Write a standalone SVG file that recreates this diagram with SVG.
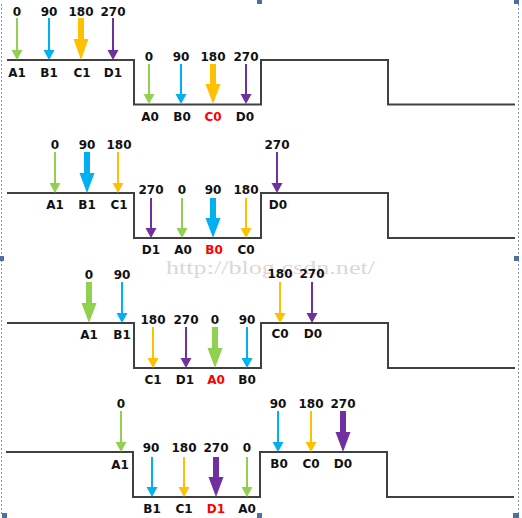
<svg xmlns="http://www.w3.org/2000/svg" width="522" height="518" viewBox="0 0 522 518">
<style>
.bg{fill:#fff}
.wave{fill:none;stroke:#404040;stroke-width:2}
.g{fill:#92D050}.b{fill:#00B0F0}.o{fill:#FFC000}.p{fill:#7030A0}
text{font-family:"DejaVu Sans",Verdana,sans-serif;font-weight:bold;font-size:12px;text-anchor:middle;fill:#111}
text.red{fill:#FF0000}
.wm{font-family:"Liberation Serif",serif;font-weight:normal;font-size:18px;text-anchor:start;fill:#dcd8d4}
.frame{stroke:#8094b8;stroke-width:1;stroke-dasharray:2 2;fill:none}
.hdl{fill:#4f6f9f}
</style>
<rect class="bg" width="522" height="518"/>
<g id="frame">
<line class="frame" x1="1.5" y1="4" x2="1.5" y2="514"/>
<line class="frame" x1="518.5" y1="4" x2="518.5" y2="514"/>
<rect class="hdl" x="257" y="0" width="5" height="4"/>
<rect class="hdl" x="514" y="0" width="5" height="4"/>
<rect class="hdl" x="0" y="256" width="4" height="5"/>
<rect class="hdl" x="514" y="256" width="5" height="5"/>
<rect class="hdl" x="2" y="513" width="5" height="5"/>
<rect class="hdl" x="257" y="513" width="5" height="5"/>
<rect class="hdl" x="513" y="513" width="6" height="5"/>
</g>
<text class="wm" x="166" y="274" textLength="209" lengthAdjust="spacingAndGlyphs">http://blog.csdn.net/</text>
<g id="connectors">
<path class="wave" d="M7 60H134V104.5H261V60H388V104.5H515"/>
<path class="wave" d="M7 193H134V238H261V193H388V238H515"/>
<path class="wave" d="M7 323H134V368H261V323H388V368H515"/>
<path class="wave" d="M6 452H133V497H260V452H387V497H514"/>
</g>
<!-- Panel 1 -->
<g id="p1">
<g id="p1-A1"><path class="g" d="M16 18h2V50h4.5L17 60 11.5 50H16Z"/><text x="17" y="16">0</text><text x="17" y="77">A1</text></g>
<g id="p1-B1"><path class="b" d="M48 18h2V50h4.5L49 60 43.5 50H48Z"/><text x="49" y="16">90</text><text x="49" y="77">B1</text></g>
<g id="p1-C1"><path class="o" d="M78 18h6V39h4.5L81 60 73.5 39H78Z"/><text x="81" y="16">180</text><text x="82" y="77">C1</text></g>
<g id="p1-D1"><path class="p" d="M112 18h2V50h4.5L113 60 107.5 50H112Z"/><text x="113" y="16">270</text><text x="113" y="77">D1</text></g>
<g id="p1-A0"><path class="g" d="M148 64h2V94h4.5L149 104 143.5 94H148Z"/><text x="149" y="61">0</text><text x="150" y="121">A0</text></g>
<g id="p1-B0"><path class="b" d="M180 64h2V94h4.5L181 104 175.5 94H180Z"/><text x="181" y="61">90</text><text x="182" y="121">B0</text></g>
<g id="p1-C0"><path class="o" d="M210 64h6V84h4.5L213 104 205.5 84H210Z"/><text x="213" y="61">180</text><text class="red" x="213" y="121">C0</text></g>
<g id="p1-D0"><path class="p" d="M245 64h2V94h4.5L246 104 240.5 94H245Z"/><text x="246" y="61">270</text><text x="245" y="121">D0</text></g>
</g>
<!-- Panel 2 -->
<g id="p2">
<g id="p2-A1"><path class="g" d="M54 152h2V183h4.5L55 193 49.5 183H54Z"/><text x="55" y="149">0</text><text x="55" y="209">A1</text></g>
<g id="p2-B1"><path class="b" d="M84 152h6V173h4.5L87 193 79.5 173H84Z"/><text x="87" y="149">90</text><text x="87" y="209">B1</text></g>
<g id="p2-C1"><path class="o" d="M117 152h2V183h4.5L118 193 112.5 183H117Z"/><text x="119" y="149">180</text><text x="119" y="209">C1</text></g>
<g id="p2-D0"><path class="p" d="M276 152h2V183h4.5L277 193 271.5 183H276Z"/><text x="277" y="149">270</text><text x="278" y="209">D0</text></g>
<g id="p2-D1"><path class="p" d="M150 198h2V228h4.5L151 238 145.5 228H150Z"/><text x="151" y="194">270</text><text x="151" y="254">D1</text></g>
<g id="p2-A0"><path class="g" d="M181 198h2V228h4.5L182 238 176.5 228H181Z"/><text x="182" y="194">0</text><text x="183" y="254">A0</text></g>
<g id="p2-B0"><path class="b" d="M210 198h6V218h4.5L213 238 205.5 218H210Z"/><text x="213" y="194">90</text><text class="red" x="214" y="254">B0</text></g>
<g id="p2-C0"><path class="o" d="M245 198h2V228h4.5L246 238 240.5 228H245Z"/><text x="246" y="194">180</text><text x="246" y="254">C0</text></g>
</g>
<!-- Panel 3 -->
<g id="p3">
<g id="p3-A1"><path class="g" d="M86 282h6V303h4.5L89 323 81.5 303H86Z"/><text x="89" y="279">0</text><text x="89" y="339">A1</text></g>
<g id="p3-B1"><path class="b" d="M121 282h2V313h4.5L122 323 116.5 313H121Z"/><text x="122" y="279">90</text><text x="122" y="339">B1</text></g>
<g id="p3-C0"><path class="o" d="M279 282h2V313h4.5L280 323 274.5 313H279Z"/><text x="280" y="278">180</text><text x="280" y="338">C0</text></g>
<g id="p3-D0"><path class="p" d="M311 282h2V313h4.5L312 323 306.5 313H311Z"/><text x="312" y="278">270</text><text x="313" y="338">D0</text></g>
<g id="p3-C1"><path class="o" d="M152 327h2V358h4.5L153 368 147.5 358H152Z"/><text x="153" y="324">180</text><text x="153" y="384">C1</text></g>
<g id="p3-D1"><path class="p" d="M185 327h2V358h4.5L186 368 180.5 358H185Z"/><text x="186" y="324">270</text><text x="185" y="384">D1</text></g>
<g id="p3-A0"><path class="g" d="M212 327h6V348h4.5L215 368 207.5 348H212Z"/><text x="215" y="324">0</text><text class="red" x="216" y="384">A0</text></g>
<g id="p3-B0"><path class="b" d="M246 327h2V358h4.5L247 368 241.5 358H246Z"/><text x="247" y="324">90</text><text x="247" y="384">B0</text></g>
</g>
<!-- Panel 4 -->
<g id="p4">
<g id="p4-A1"><path class="g" d="M120 411h2V442h4.5L121 452 115.5 442H120Z"/><text x="121" y="408">0</text><text x="120" y="469">A1</text></g>
<g id="p4-B0"><path class="b" d="M277 411h2V442h4.5L278 452 272.5 442H277Z"/><text x="278" y="408">90</text><text x="279" y="468">B0</text></g>
<g id="p4-C0"><path class="o" d="M310 411h2V442h4.5L311 452 305.5 442H310Z"/><text x="311" y="408">180</text><text x="311" y="468">C0</text></g>
<g id="p4-D0"><path class="p" d="M340 411h6V432h4.5L343 452 335.5 432H340Z"/><text x="343" y="408">270</text><text x="343" y="468">D0</text></g>
<g id="p4-B1"><path class="b" d="M151 457h2V487h4.5L152 497 146.5 487H151Z"/><text x="151" y="452">90</text><text x="152" y="513">B1</text></g>
<g id="p4-C1"><path class="o" d="M183 457h2V487h4.5L184 497 178.5 487H183Z"/><text x="184" y="452">180</text><text x="184" y="513">C1</text></g>
<g id="p4-D1"><path class="p" d="M213 457h6V477h4.5L216 497 208.5 477H213Z"/><text x="216" y="452">270</text><text class="red" x="216" y="513">D1</text></g>
<g id="p4-A0"><path class="g" d="M246 457h2V487h4.5L247 497 241.5 487H246Z"/><text x="247" y="452">0</text><text x="247" y="513">A0</text></g>
</g>
</svg>
